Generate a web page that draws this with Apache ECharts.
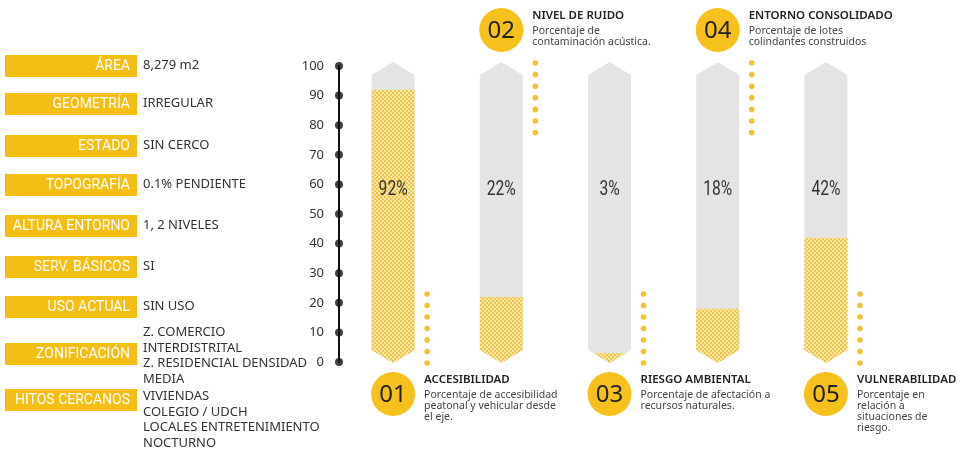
<!DOCTYPE html>
<html><head><meta charset="utf-8">
<script src="https://cdn.jsdelivr.net/npm/echarts@6/dist/echarts.min.js"></script>
<style>html,body{margin:0;padding:0;background:#fff}#c{width:960px;height:450px}</style>
</head><body><div id="c"></div>
<script>
// ---- data ----
const categories = ['01', '02', '03', '04', '05'];
const values = [92, 22, 3, 18, 42];
const titles = ['ACCESIBILIDAD', 'NIVEL DE RUIDO', 'RIESGO AMBIENTAL', 'ENTORNO CONSOLIDADO', 'VULNERABILIDAD'];
const descriptions = [
  'Porcentaje de accesibilidad\npeatonal y vehicular desde\nel eje.',
  'Porcentaje de\ncontaminación acústica.',
  'Porcentaje de afectación a\nrecursos naturales.',
  'Porcentaje de lotes\ncolindantes construidos',
  'Porcentaje en\nrelación a\nsituaciones de\nriesgo.'
];
const yTicks = [0, 10, 20, 30, 40, 50, 60, 70, 80, 90, 100];
const infoLabels = ['ÁREA', 'GEOMETRÍA', 'ESTADO', 'TOPOGRAFÍA', 'ALTURA ENTORNO', 'SERV. BÁSICOS', 'USO ACTUAL', 'ZONIFICACIÓN', 'HITOS CERCANOS'];
const infoValues = [
  '8,279 m2', 'IRREGULAR', 'SIN CERCO', '0.1% PENDIENTE', '1, 2 NIVELES', 'SI', 'SIN USO',
  'Z. COMERCIO\nINTERDISTRITAL\nZ. RESIDENCIAL DENSIDAD\nMEDIA',
  'VIVIENDAS\nCOLEGIO / UDCH\nLOCALES ENTRETENIMIENTO\nNOCTURNO'
];

// ---- layout (not data) ----
const rowCenters = [66, 104, 146, 185, 226, 267, 307, 354, 400];
const valueTops = [58, 96, 138, 177, 218, 259, 299, 325, 389];
const GOLD = '#F4BE14';
const BADGE = '#F6C11C';

// dotted yellow pattern
const pc = document.createElement('canvas');
pc.width = 4; pc.height = 4;
const g = pc.getContext('2d');
g.fillStyle = '#F8E6AE'; g.fillRect(0, 0, 4, 4);
g.fillStyle = '#EEC13A';
g.beginPath(); g.arc(1, 1, 1.1, 0, Math.PI * 2); g.fill();
g.beginPath(); g.arc(3, 3, 1.1, 0, Math.PI * 2); g.fill();
const pattern = { image: pc, repeat: 'repeat' };

const chart = echarts.init(document.getElementById('c'));

const graphics = [];
infoLabels.forEach((lab, i) => {
  graphics.push({
    type: 'rect', left: 5, top: rowCenters[i] - 11,
    shape: { width: 132, height: 22 }, style: { fill: GOLD }
  });
  graphics.push({
    type: 'text', x: 130, y: rowCenters[i],
    style: { text: lab, fill: '#fff', font: '14px Roboto', textAlign: 'right', textVerticalAlign: 'middle' }
  });
  graphics.push({
    type: 'text', x: 143, y: valueTops[i],
    style: { text: infoValues[i], fill: '#333', font: '13px "Noto Sans"', lineHeight: 15.4, textAlign: 'left', textVerticalAlign: 'top' }
  });
});

function renderItem(params, api) {
  const i = params.dataIndex;
  const v = api.value(1);
  const base = api.coord([i, 0]);
  const topP = api.coord([i, 100]);
  const cx = base[0], y0 = base[1], y100 = topP[1];
  const hw = 21.5;
  const tipTop = y100 - 4, shTop = y100 + 9;
  const tipBot = y0 + 1, shBot = y0 - 12;
  const yv = api.coord([i, v])[1];
  const shape = [[cx, tipTop], [cx + hw, shTop], [cx + hw, shBot], [cx, tipBot], [cx - hw, shBot], [cx - hw, shTop]];
  let fillPts;
  if (yv <= shBot) {
    fillPts = [[cx - hw, yv], [cx + hw, yv], [cx + hw, shBot], [cx, tipBot], [cx - hw, shBot]];
  } else {
    const h = hw * (tipBot - yv) / (tipBot - shBot);
    fillPts = [[cx - h, yv], [cx + h, yv], [cx, tipBot]];
  }
  const isTop = i % 2 === 1;
  const cy = isTop ? y100 - 36 : y0 + 32;
  const children = [
    { type: 'polygon', shape: { points: shape }, style: { fill: '#E4E4E4' } },
    { type: 'polygon', shape: { points: fillPts }, style: { fill: pattern } },
    { type: 'text', x: cx, y: api.coord([i, 58])[1], scaleX: 0.78,
      style: { text: v + '%', fill: '#333', font: '20px Roboto', textAlign: 'center', textVerticalAlign: 'middle' } },
    { type: 'circle', shape: { cx: cx, cy: cy, r: 22 }, style: { fill: BADGE } },
    { type: 'text', x: cx, y: cy + 1,
      style: { text: categories[i], fill: '#222', font: '24px "Noto Sans"', textAlign: 'center', textVerticalAlign: 'middle' } },
    { type: 'text', x: cx + 31, y: cy - 14,
      style: { text: titles[i], fill: '#222', font: '600 11.5px "Noto Sans"', textAlign: 'left', textVerticalAlign: 'middle' } },
    { type: 'text', x: cx + 31, y: cy - 4,
      style: { text: descriptions[i], fill: '#444', font: '10.5px "Noto Sans"', lineHeight: 11, textAlign: 'left', textVerticalAlign: 'top' } }
  ];
  for (let k = 0; k < 7; k++) {
    const dy = isTop ? (y100 - 3 + k * 11.6) : (y0 + 1 - k * 11.5);
    children.push({ type: 'circle', shape: { cx: cx + 34, cy: dy, r: 2.8 }, style: { fill: '#F2C230' } });
  }
  return { type: 'group', children: children };
}

chart.setOption({
  animation: false,
  grid: { left: 339, right: 80, top: 66, bottom: 88 },
  xAxis: [
    { type: 'category', data: categories, show: false },
    { type: 'value', min: 0, max: 1, show: false }
  ],
  yAxis: {
    type: 'value', min: 0, max: 100, interval: 10,
    axisLine: { show: true, lineStyle: { color: '#111', width: 2 } },
    axisTick: { show: false },
    splitLine: { show: false },
    axisLabel: { color: '#333', fontSize: 13, fontFamily: 'Noto Sans', margin: 15 }
  },
  series: [
    {
      type: 'custom', renderItem: renderItem, xAxisIndex: 0, yAxisIndex: 0,
      data: values.map((v, i) => [i, v]), clip: false
    },
    {
      type: 'scatter', xAxisIndex: 1, yAxisIndex: 0, clip: false,
      symbolSize: 8, itemStyle: { color: '#111' },
      data: yTicks.map(t => [0, t]), silent: true
    }
  ],
  graphic: graphics
});
</script>
</body></html>
